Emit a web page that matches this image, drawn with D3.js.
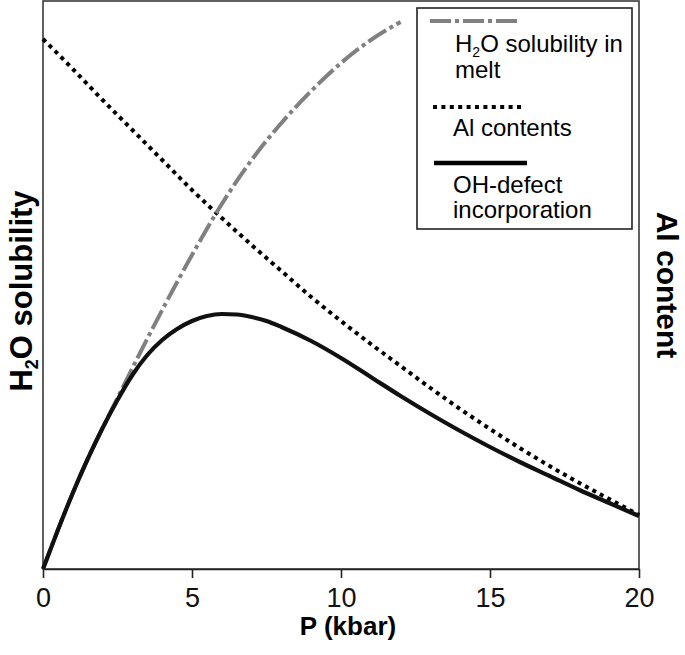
<!DOCTYPE html>
<html>
<head>
<meta charset="utf-8">
<script src="https://cdn.jsdelivr.net/npm/d3@7"></script>
<style>
  body { margin: 0; background: #fff; }
  svg { display: block; font-family: "Liberation Sans", Arial, sans-serif; }
</style>
</head>
<body>
<div id="chart"></div>
<script>
// pressure values (kbar) and relative curve heights
const pressureH2O = [0, 0.5, 1, 1.5, 2, 2.5, 3, 4, 5, 6, 7, 8, 9, 10, 11, 12];
const h2oSolubility = [0, 3.9, 7.6, 11.0, 14.1, 17.1, 20.1, 25.9, 31.4, 36.5, 40.9, 44.6, 47.8, 50.6, 52.9, 54.7];

const pressureAl = [0, 1, 2, 3, 4, 5, 6, 7, 8, 9, 10, 11, 12, 13, 14, 15, 16, 17, 18, 19, 20];
const alContents = [53.0, 50.0, 46.9, 43.9, 40.9, 37.9, 35.1, 32.4, 29.8, 27.2, 24.8, 22.5, 20.3, 18.1, 16.0, 14.0, 12.1, 10.3, 8.6, 7.0, 5.4];

const pressureOH = [0, 0.5, 1, 1.5, 2, 2.5, 3, 3.5, 4, 4.5, 5, 5.5, 6, 6.5, 7, 7.5, 8, 9, 10, 11, 12, 13, 14, 15, 16, 17, 18, 19, 20];
const ohDefect = [0, 3.9, 7.6, 11.0, 14.1, 16.9, 19.4, 21.4, 22.9, 24.0, 24.8, 25.3, 25.5, 25.45, 25.2, 24.8, 24.2, 22.8, 21.1, 19.2, 17.3, 15.5, 13.8, 12.2, 10.7, 9.3, 7.9, 6.6, 5.3];

const xTicks = [0, 5, 10, 15, 20];

const width = 685, height = 655;
const margin = { top: 1, right: 46, bottom: 86, left: 43 };

const svg = d3.select('#chart')
    .append('svg')
    .attr('width', width)
    .attr('height', height);

const x = d3.scaleLinear().domain([0, 20]).range([margin.left, width - margin.right]);
const y = d3.scaleLinear().domain([0, 56.8]).range([height - margin.bottom, margin.top]);

// frame
svg.append('rect')
    .attr('x', margin.left)
    .attr('y', margin.top)
    .attr('width', width - margin.left - margin.right)
    .attr('height', height - margin.top - margin.bottom)
    .attr('fill', 'none')
    .attr('stroke', '#3a3a3a')
    .attr('stroke-width', 1.6);

// x axis
const xAxis = svg.append('g')
    .attr('transform', `translate(0,${height - margin.bottom})`)
    .call(d3.axisBottom(x).tickValues(xTicks).tickSize(9).tickSizeOuter(0).tickPadding(10));
xAxis.select('.domain').attr('stroke', '#222').attr('stroke-width', 1.6);
xAxis.selectAll('.tick line').attr('stroke', '#222').attr('stroke-width', 1.6);
xAxis.selectAll('.tick text')
    .attr('font-family', '"Liberation Sans", Arial, sans-serif')
    .attr('font-size', 27)
    .attr('fill', '#111');

svg.append('text')
    .attr('x', 348)
    .attr('y', 635)
    .attr('text-anchor', 'middle')
    .attr('font-size', 26)
    .attr('font-weight', 'bold')
    .text('P (kbar)');

// left axis label
const leftLabel = svg.append('text')
    .attr('transform', 'translate(32,291) rotate(-90)')
    .attr('text-anchor', 'middle')
    .attr('font-size', 31)
    .attr('font-weight', 'bold');
leftLabel.append('tspan').text('H');
leftLabel.append('tspan').attr('font-size', 18).attr('dy', 6).text('2');
leftLabel.append('tspan').attr('dy', -6).text('O solubility');

// right axis label
svg.append('text')
    .attr('transform', 'translate(657,285) rotate(90)')
    .attr('text-anchor', 'middle')
    .attr('font-size', 30)
    .attr('font-weight', 'bold')
    .text('Al content');

const line = d3.line()
    .x(d => x(d[0]))
    .y(d => y(d[1]))
    .curve(d3.curveMonotoneX);

// Al contents (dotted)
svg.append('path')
    .datum(d3.zip(pressureAl, alContents))
    .attr('d', line)
    .attr('fill', 'none')
    .attr('stroke', '#000')
    .attr('stroke-width', 4)
    .attr('stroke-dasharray', '4,4.4');

// H2O solubility in melt (dash-dot, grey)
svg.append('path')
    .datum(d3.zip(pressureH2O, h2oSolubility))
    .attr('d', line)
    .attr('fill', 'none')
    .attr('stroke', '#808080')
    .attr('stroke-width', 4)
    .attr('stroke-dasharray', '21,4,4,4');

// OH-defect incorporation (solid)
svg.append('path')
    .datum(d3.zip(pressureOH, ohDefect))
    .attr('d', line)
    .attr('fill', 'none')
    .attr('stroke', '#111')
    .attr('stroke-width', 4.2);

// legend
const legend = svg.append('g');
legend.append('rect')
    .attr('x', 417)
    .attr('y', 8)
    .attr('width', 215)
    .attr('height', 221)
    .attr('fill', '#fff')
    .attr('stroke', '#222')
    .attr('stroke-width', 1.6);

legend.append('line')
    .attr('x1', 430).attr('x2', 520).attr('y1', 21).attr('y2', 21)
    .attr('stroke', '#808080').attr('stroke-width', 4)
    .attr('stroke-dasharray', '21,4,4,4');
const l1 = legend.append('text')
    .attr('x', 455).attr('y', 52)
    .attr('font-size', 24);
l1.append('tspan').text('H');
l1.append('tspan').attr('font-size', 14).attr('dy', 5).text('2');
l1.append('tspan').attr('dy', -5).text('O solubility in');
legend.append('text')
    .attr('x', 455).attr('y', 78)
    .attr('font-size', 24)
    .text('melt');

legend.append('line')
    .attr('x1', 433).attr('x2', 524).attr('y1', 107).attr('y2', 107)
    .attr('stroke', '#000').attr('stroke-width', 4)
    .attr('stroke-dasharray', '4,4.4');
legend.append('text')
    .attr('x', 453).attr('y', 136)
    .attr('font-size', 24)
    .text('Al contents');

legend.append('line')
    .attr('x1', 434).attr('x2', 527).attr('y1', 163).attr('y2', 163)
    .attr('stroke', '#000').attr('stroke-width', 4.5);
legend.append('text')
    .attr('x', 453).attr('y', 193)
    .attr('font-size', 24)
    .text('OH-defect');
legend.append('text')
    .attr('x', 453).attr('y', 218)
    .attr('font-size', 24)
    .text('incorporation');
</script>
</body>
</html>
